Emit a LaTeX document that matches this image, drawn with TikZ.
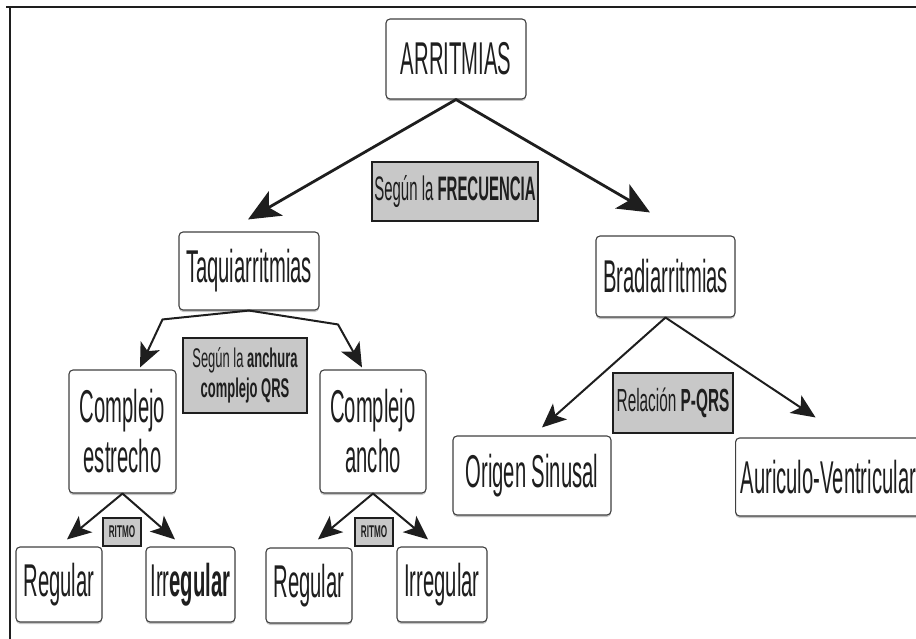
\documentclass[tikz,border=0pt]{standalone}
\usepackage{fontspec}
\setmainfont{Liberation Sans}
\newfontfamily\nar[FakeStretch=0.44]{Liberation Sans}
\newfontfamily\narl[FakeStretch=0.48]{Liberation Sans}
\usetikzlibrary{arrows.meta,calc,shadows}
\definecolor{ink}{HTML}{1E1E1E}
\definecolor{labelgray}{HTML}{C8C8C8}
\tikzset{
  box/.style={draw=black!75, line width=1.1pt, rounded corners=4pt, fill=white,
    drop shadow={shadow xshift=0pt, shadow yshift=-2pt, fill=black!45},
    inner sep=0pt, font=\nar\fontsize{46}{50}\selectfont, text=ink, align=center},
  lab/.style={draw=ink, line width=1.6pt, fill=labelgray, inner sep=0pt, text=ink, align=center},
  bigarrow/.style={draw=ink, line width=2.8pt, line cap=round, line join=round,
    -{Stealth[length=32pt,width=28pt,inset=8pt]}},
  smallarrow/.style={draw=ink, line width=2pt, line cap=round, line join=round,
    -{Stealth[length=24pt,width=21pt,inset=6pt]}},
}
\begin{document}
\begin{tikzpicture}[x=1pt,y=-1pt]
\useasboundingbox (0,0) rectangle (916,639);
% frame
\draw[ink, line width=1.5pt] (6,7) -- (916,7);
\draw[ink, line width=1.5pt] (10,7) -- (10,639);

% main boxes
\node[box, minimum width=140pt, minimum height=80pt] (arr) at (456,59) {ARRITMIAS};
\node[box, minimum width=140pt, minimum height=78pt] (taq) at (249,271) {Taquiarritmias};
\node[box, minimum width=139pt, minimum height=81pt] (bra) at (665.5,276.5) {Bradiarritmias};
\node[box, minimum width=107pt, minimum height=123pt] (cest) at (122.5,431.5) {Complejo\\estrecho};
\node[box, minimum width=106pt, minimum height=123pt] (canch) at (373,431.5) {Complejo\\ancho};
\node[box, minimum width=86pt, minimum height=75pt] (reg1) at (59,584.5) {Regular};
\node[box, minimum width=89pt, minimum height=75pt] (irr1) at (190.5,584.5) {Irr\textbf{egular}};
\node[box, minimum width=86pt, minimum height=75pt] (reg2) at (309,585.5) {Regular};
\node[box, minimum width=90pt, minimum height=75pt] (irr2) at (442,584.5) {Irregular};
\node[box, minimum width=158pt, minimum height=79pt] (ori) at (532,475.5) {Origen Sinusal};
\node[box, anchor=west, minimum width=200pt, minimum height=78pt, text width=190pt, align=left] (aur) at (735,477) {Auriculo-Ventricular};

% gray labels
\node[lab, minimum width=166pt, minimum height=59pt, font=\nar\fontsize{34}{38}\selectfont] (frec) at (455,191.5) {Según la \textbf{FRECUENCIA}};
\node[lab, minimum width=124pt, minimum height=75pt, font=\narl\fontsize{27}{30}\selectfont] (anch) at (245,375.5) {Según la \textbf{anchura}\\\textbf{complejo QRS}};
\node[lab, minimum width=120pt, minimum height=60pt, font=\narl\fontsize{32}{36}\selectfont] (rel) at (673,403) {Relación \textbf{P-QRS}};
\node[lab, line width=1.2pt, minimum width=38pt, minimum height=28pt, font=\narl\fontsize{17}{20}\selectfont\bfseries] (rit1) at (122,532) {RITMO};
\node[lab, line width=1.2pt, minimum width=38pt, minimum height=28pt, font=\narl\fontsize{17}{20}\selectfont\bfseries] (rit2) at (374,532) {RITMO};

% connectors
\draw[bigarrow] (arr.south) -- ($(taq.north)+(-1,-12)$);
\draw[bigarrow] (arr.south) -- ($(bra.north)+(-15.5,-23)$);
\draw[smallarrow] (taq.south) -- ($(cest.north)+(40,-50)$) -- ($(cest.north)+(17.5,-2)$);
\draw[smallarrow] (taq.south) -- ($(canch.north)+(-35,-45)$) -- ($(canch.north)+(-11,-2)$);
\draw[smallarrow] (cest.south) -- ($(reg1.north)+(8,-7)$);
\draw[smallarrow] (cest.south) -- ($(irr1.north)+(-15.5,-7)$);
\draw[smallarrow] (canch.south) -- ($(reg2.north)+(9,-8)$);
\draw[smallarrow] (canch.south) -- ($(irr2.north)+(-14,-7)$);
\draw[smallarrow] (bra.south) -- ($(ori.north)+(10,-8)$);
\draw[smallarrow] (bra.south) -- ($(aur.north)+(-20,-20)$);
\end{tikzpicture}
\end{document}
